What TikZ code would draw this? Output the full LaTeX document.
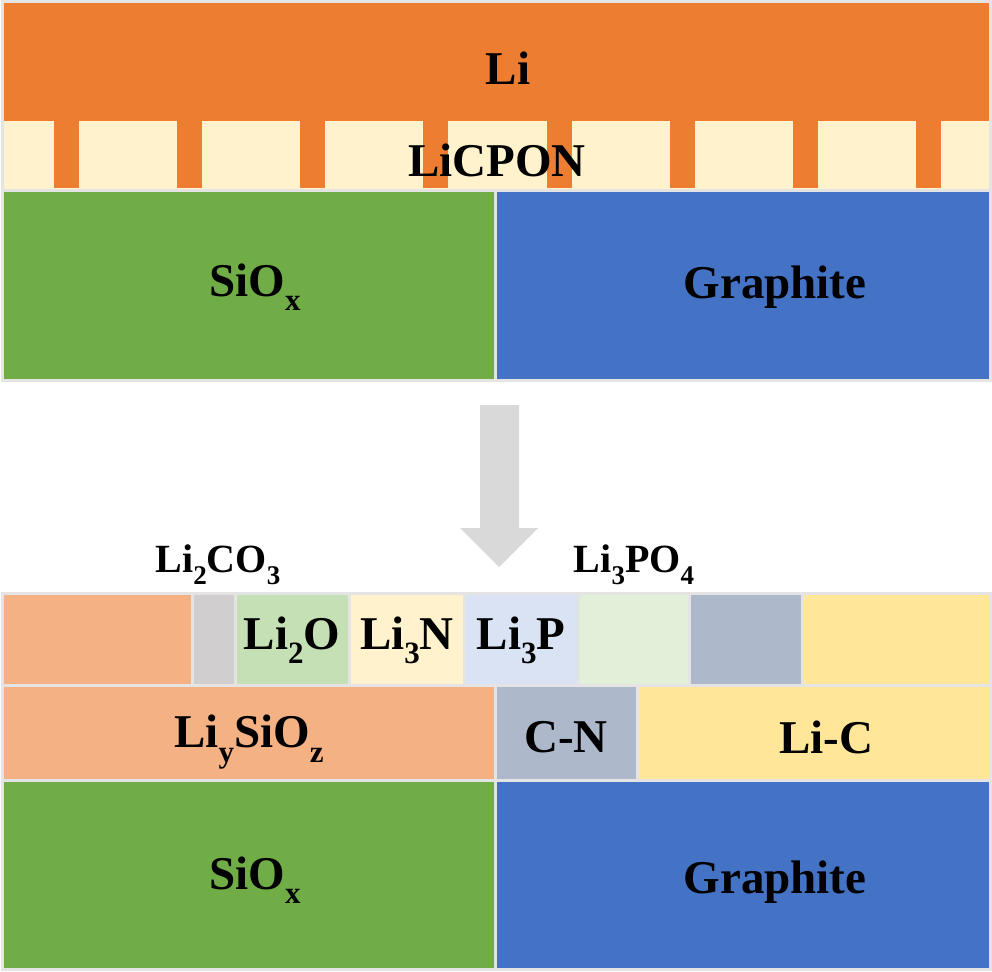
\documentclass[tikz,border=0pt]{standalone}
\usepackage{fontspec}
\setmainfont{Liberation Serif}
\newcommand\chsubA[1]{\raisebox{-0.3em}{\fontsize{31}{31}\selectfont #1}}
\newcommand\chsubB[1]{\raisebox{-0.3em}{\fontsize{27}{27}\selectfont #1}}
\definecolor{liorange}{HTML}{ED7D31}
\definecolor{cream}{HTML}{FFF2CC}
\definecolor{sigreen}{HTML}{70AD47}
\definecolor{grblue}{HTML}{4472C4}
\definecolor{arrowgray}{HTML}{D9D9D9}
\definecolor{salmon}{HTML}{F4B183}
\definecolor{cgray}{HTML}{D0CECE}
\definecolor{ogreen}{HTML}{C5E0B4}
\definecolor{pblue}{HTML}{DAE3F3}
\definecolor{lgreen}{HTML}{E2F0D9}
\definecolor{bgray}{HTML}{ADB9CA}
\definecolor{yel}{HTML}{FFE699}
\definecolor{linegray}{HTML}{E4E4E4}
\begin{document}
\begin{tikzpicture}[x=1pt,y=-1pt,
  cell/.style={draw=linegray, line width=3pt},
  lab/.style={font=\bfseries\fontsize{47}{50}\selectfont, inner sep=0pt},
  slab/.style={font=\bfseries\fontsize{40}{44}\selectfont, inner sep=0pt}]
\useasboundingbox[fill=white] (0,0) rectangle (992,971);
% ---- top stack ----
\path[cell, fill=cream] (2,2) rectangle (990,190);
\fill[liorange] (3.5,3.5) rectangle (988.5,121);
\foreach \px in {54,177,300,423,547,670,793,916}
  \fill[liorange] (\px,120) rectangle (\px+25,188);
\path[cell, fill=sigreen] (2,190) rectangle (495,380);
\path[cell, fill=grblue] (495,190) rectangle (990,380);
\node[lab] (li) at (508,68) {Li};
\node[lab] (licpon) at (497,160) {LiCPON};
\node[lab] (siox1) at (255,287) {SiO\chsubA{x}};
\node[lab] (graph1) at (775,287) {Graphite};
% ---- arrow ----
\fill[arrowgray] (480,405) -- (519,405) -- (519,528) -- (538,528) -- (499,567)
  -- (460,528) -- (480,528) -- cycle;
% ---- bottom stack ----
\path[cell, fill=salmon] (2,593) rectangle (192,685);
\path[cell, fill=cgray] (192,593) rectangle (235,685);
\path[cell, fill=ogreen] (235,593) rectangle (349,685);
\path[cell, fill=cream] (349,593) rectangle (464,685);
\path[cell, fill=pblue] (464,593) rectangle (578,685);
\path[cell, fill=lgreen] (578,593) rectangle (689,685);
\path[cell, fill=bgray] (689,593) rectangle (802,685);
\path[cell, fill=yel] (802,593) rectangle (990,685);
\path[cell, fill=salmon] (2,685) rectangle (495,780);
\path[cell, fill=bgray] (495,685) rectangle (637,780);
\path[cell, fill=yel] (637,685) rectangle (990,780);
\path[cell, fill=sigreen] (2,780) rectangle (495,969);
\path[cell, fill=grblue] (495,780) rectangle (990,969);
\node[slab] (li2co3) at (218,565) {Li\chsubB{2}CO\chsubB{3}};
\node[slab] (li3po4) at (634,565) {Li\chsubB{3}PO\chsubB{4}};
\node[lab] (li2o) at (292,640) {Li\chsubA{2}O};
\node[lab] (li3n) at (407,640) {Li\chsubA{3}N};
\node[lab] (li3p) at (521,640) {Li\chsubA{3}P};
\node[lab] (lisio) at (249,742) {Li\chsubA{y}SiO\chsubA{z}};
\node[lab] (cn) at (566,737) {C-N};
\node[lab] (lic) at (826,737) {Li-C};
\node[lab] (siox2) at (255,880) {SiO\chsubA{x}};
\node[lab] (graph2) at (775,882) {Graphite};
\end{tikzpicture}
\end{document}
